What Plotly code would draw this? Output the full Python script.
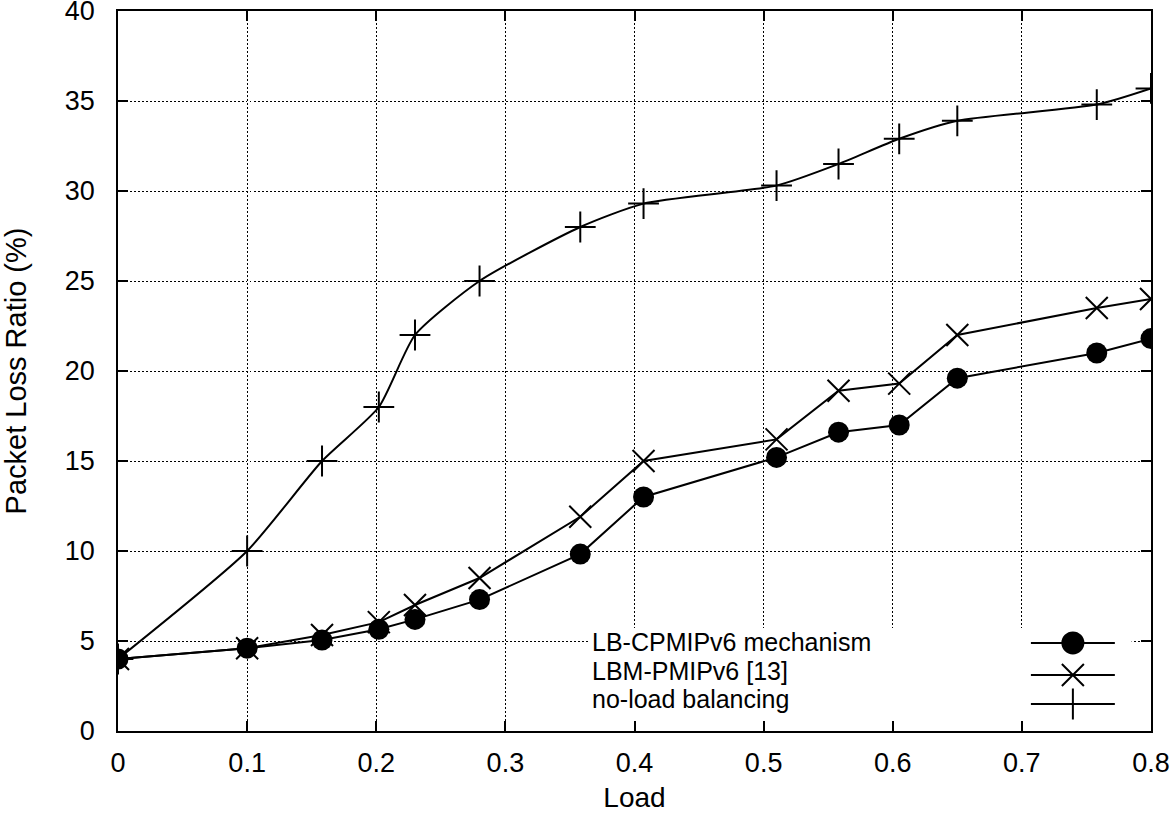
import plotly.graph_objects as go

# ---- data ----
load = [0.0, 0.1, 0.158, 0.202, 0.23, 0.28, 0.358, 0.407, 0.51, 0.558, 0.605, 0.65, 0.758, 0.8]
lb_cpmipv6 = [4.0, 4.6, 5.05, 5.65, 6.2, 7.3, 9.83, 13.0, 15.2, 16.6, 17.0, 19.6, 21.0, 21.8]
lbm_pmipv6 = [4.0, 4.6, 5.33, 6.05, 7.0, 8.5, 11.9, 15.0, 16.2, 18.9, 19.3, 22.0, 23.5, 24.0]
no_lb = [4.0, 10.0, 15.0, 18.0, 22.0, 25.0, 28.0, 29.3, 30.3, 31.5, 32.9, 33.9, 34.8, 35.7]

series_names = ["LB-CPMIPv6 mechanism", "LBM-PMIPv6 [13]", "no-load balancing"]
x_ticks = [0, 0.1, 0.2, 0.3, 0.4, 0.5, 0.6, 0.7, 0.8]
x_tick_labels = ["0", "0.1", "0.2", "0.3", "0.4", "0.5", "0.6", "0.7", "0.8"]
y_ticks = [0, 5, 10, 15, 20, 25, 30, 35, 40]

FONT = "Liberation Sans, Arial, Helvetica, sans-serif"
BLACK = "black"

fig = go.Figure()

fig.add_trace(go.Scatter(
    x=load, y=lb_cpmipv6, mode="lines+markers", name=series_names[0],
    line=dict(color=BLACK, width=2),
    marker=dict(symbol="circle", size=21, color=BLACK),
    showlegend=False))
fig.add_trace(go.Scatter(
    x=load, y=lbm_pmipv6, mode="lines+markers", name=series_names[1],
    line=dict(color=BLACK, width=2),
    marker=dict(symbol="x-thin", size=22, line=dict(color=BLACK, width=2)),
    showlegend=False))
fig.add_trace(go.Scatter(
    x=load, y=no_lb, mode="lines+markers", name=series_names[2],
    line=dict(color=BLACK, width=2, shape="spline", smoothing=0.6),
    marker=dict(symbol="cross-thin", size=22, line=dict(color=BLACK, width=2)),
    showlegend=False))

# ---- custom gnuplot-style key (text left, sample right) ----
key_text_x = 0.3658
key_text_y = [4.92, 3.33, 1.78]
key_line_x = [0.707, 0.772]
key_marker_x = 0.7395
key_line_y = [4.89, 3.11, 1.5]
key_symbols = ["circle", "x-thin", "cross-thin"]
key_sizes = [21, 22, 22]

fig.add_shape(type="rect", xref="x", yref="y", x0=0.365, x1=0.785, y0=0, y1=5.72,
              fillcolor="white", line=dict(width=0), layer="between")

for i, name in enumerate(series_names):
    fig.add_trace(go.Scatter(
        x=key_line_x, y=[key_line_y[i]] * 2, mode="lines",
        line=dict(color=BLACK, width=2),
        showlegend=False, hoverinfo="skip"))
    fig.add_trace(go.Scatter(
        x=[key_marker_x], y=[key_line_y[i]], mode="markers",
        marker=dict(symbol=key_symbols[i], size=key_sizes[i], color=BLACK,
                    opacity=1, line=dict(color=BLACK, width=2)),
        showlegend=False, hoverinfo="skip"))
    fig.add_annotation(x=key_text_x, y=key_text_y[i], xref="x", yref="y",
                       text=name, showarrow=False, xanchor="left", yanchor="middle",
                       font=dict(family=FONT, size=25, color=BLACK))

axis_common = dict(
    showline=True, linecolor=BLACK, linewidth=1.5, mirror="ticks",
    ticks="inside", ticklen=10, tickwidth=1.5, tickcolor=BLACK,
    showgrid=True, gridcolor=BLACK, gridwidth=1.2, griddash="1.5px,2.5px",
    zeroline=False, ticklabeloverflow="allow", automargin=False,
    tickfont=dict(family=FONT, size=27, color=BLACK),
)

fig.update_layout(
    width=1176, height=818,
    margin=dict(l=118, r=25, t=11, b=87, autoexpand=False),
    paper_bgcolor="white", plot_bgcolor="white",
    font=dict(family=FONT, color=BLACK),
    xaxis=dict(range=[0, 0.8], tickvals=x_ticks, ticktext=x_tick_labels,
               ticklabelstandoff=7,
               title=dict(text="Load", font=dict(family=FONT, size=28, color=BLACK), standoff=10),
               **axis_common),
    yaxis=dict(range=[0, 40], tickvals=y_ticks, ticklabelstandoff=16,
               title=dict(text="Packet Loss Ratio (%)", font=dict(family=FONT, size=29, color=BLACK), standoff=39),
               **axis_common),
)

fig.write_html("out.html", config={"displayModeBar": False},
               post_script="document.body.style.margin='0px';document.body.style.overflow='hidden';")
